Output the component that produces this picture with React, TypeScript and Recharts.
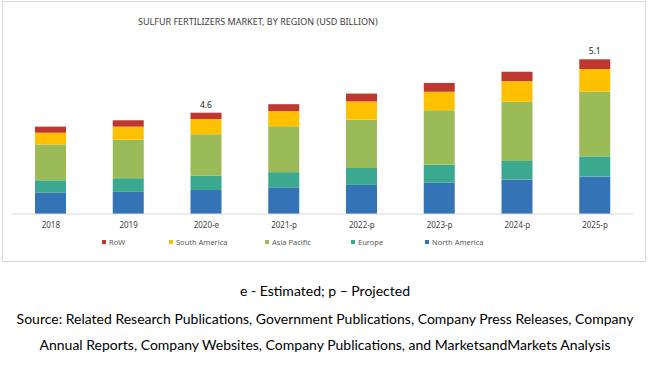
import * as React from "react";
import { BarChart, Bar, XAxis, YAxis, LabelList } from "recharts";

const years = ["2018", "2019", "2020-e", "2021-p", "2022-p", "2023-p", "2024-p", "2025-p"];
const northAmerica = [0.7, 0.73, 0.79, 0.88, 0.96, 1.03, 1.14, 1.24];
const europe = [0.41, 0.45, 0.47, 0.5, 0.56, 0.59, 0.61, 0.66];
const asiaPacific = [1.18, 1.27, 1.37, 1.51, 1.59, 1.8, 1.95, 2.14];
const southAmerica = [0.39, 0.43, 0.5, 0.5, 0.6, 0.61, 0.68, 0.74];
const row = [0.2, 0.21, 0.21, 0.23, 0.26, 0.29, 0.31, 0.32];
const totalLabels = ["", "", "4.6", "", "", "", "", "5.1"];

const SERIES = [
  { key: "na", name: "North America", values: northAmerica, color: "#3473b5" },
  { key: "eu", name: "Europe", values: europe, color: "#3aa98f" },
  { key: "ap", name: "Asia Pacific", values: asiaPacific, color: "#9bbb59" },
  { key: "sa", name: "South America", values: southAmerica, color: "#ffc000" },
  { key: "row", name: "RoW", values: row, color: "#be3731" },
];

// legend order as in the picture, with x of each marker
const LEGEND_X: Record<string, number> = {
  row: 102,
  sa: 169,
  ap: 265,
  eu: 351,
  na: 425,
};

const data = years.map((year, i) => {
  const d: any = { year, label: totalLabels[i] };
  SERIES.forEach((s) => {
    d[s.key] = s.values[i];
  });
  return d;
});

const noteFont = "Lato, 'Open Sans', sans-serif";

export default function App() {
  const legendOrder = [...SERIES].reverse();
  return (
    <div
      style={{
        position: "absolute",
        left: 0,
        top: 0,
        width: 650,
        height: 365,
        background: "#fff",
        fontFamily: "'Noto Sans', sans-serif",
      }}
    >
      <div
        style={{
          position: "absolute",
          left: 2,
          top: 1,
          width: 644,
          height: 261,
          border: "1px solid #d9d9d9",
          boxSizing: "border-box",
        }}
      />
      <div
        style={{
          position: "absolute",
          left: 138,
          top: 15,
          fontSize: 9,
          color: "#404040",
          whiteSpace: "nowrap",
        }}
      >
        SULFUR FERTILIZERS MARKET, BY REGION (USD BILLION)
      </div>
      <div style={{ position: "absolute", left: 0, top: 0 }}>
        <BarChart
          width={650}
          height={265}
          data={data}
          margin={{ top: 32, right: 16, bottom: 21, left: 12 }}
        >
          <XAxis
            dataKey="year"
            tickLine={false}
            axisLine={{ stroke: "#d9d9d9" }}
            tick={{ fontSize: 8, fill: "#404040" }}
            height={30}
          />
          <YAxis hide domain={[0, 6]} allowDataOverflow />
          {SERIES.map((s, idx) => (
            <Bar
              key={s.key}
              dataKey={s.key}
              name={s.name}
              stackId="a"
              fill={s.color}
              barSize={31}
              isAnimationActive={false}
            >
              {idx === SERIES.length - 1 && (
                <LabelList
                  dataKey="label"
                  position="top"
                  offset={5}
                  style={{ fontSize: 8.5, fill: "#222" }}
                />
              )}
            </Bar>
          ))}
        </BarChart>
      </div>
      {legendOrder.map((s) => (
        <div
          key={s.key}
          style={{
            position: "absolute",
            left: LEGEND_X[s.key],
            top: 237,
            fontSize: 7.5,
            color: "#595959",
            whiteSpace: "nowrap",
            display: "flex",
            alignItems: "center",
          }}
        >
          <span
            style={{
              display: "inline-block",
              width: 4,
              height: 4,
              background: s.color,
              marginRight: 3,
            }}
          />
          {s.name}
        </div>
      ))}
      <div
        style={{
          position: "absolute",
          left: 0,
          top: 278,
          width: 650,
          textAlign: "center",
          fontFamily: noteFont,
          fontSize: 14,
          color: "#000",
          lineHeight: "26px",
        }}
      >
        <div>e - Estimated; p – Projected</div>
        <div style={{ marginTop: 2 }}>
          Source: Related Research Publications, Government Publications, Company Press Releases, Company
        </div>
        <div>Annual Reports, Company Websites, Company Publications, and MarketsandMarkets Analysis</div>
      </div>
    </div>
  );
}
